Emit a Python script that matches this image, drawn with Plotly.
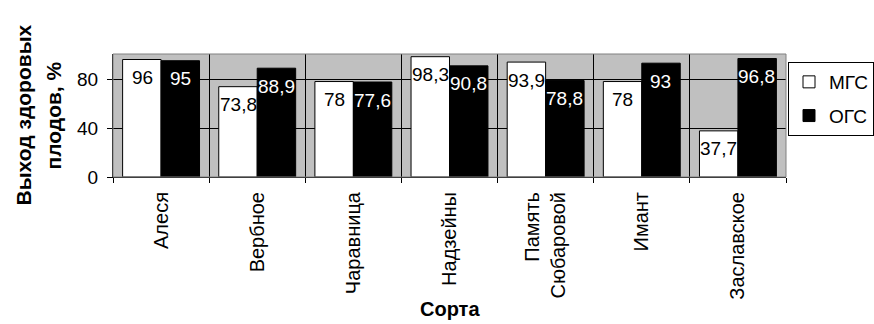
import plotly.graph_objects as go

categories = ["Алеся", "Вербное", "Чаравница", "Надзейны", "Память<br>Сюбаровой", "Имант", "Заславское"]
mgs_values = [96, 73.8, 78, 98.3, 93.9, 78, 37.7]
ogs_values = [95, 88.9, 77.6, 90.8, 78.8, 93, 96.8]
mgs_labels = ["96", "73,8", "78", "98,3", "93,9", "78", "37,7"]
ogs_labels = ["95", "88,9", "77,6", "90,8", "78,8", "93", "96,8"]
y_ticks = [0, 40, 80]

FONT = "Liberation Sans, Arial, sans-serif"
L, R, T, B = 113, 88, 54, 147
W, H = 874, 324
pw = W - L - R
ph = H - T - B

fig = go.Figure()
fig.add_trace(go.Bar(name="МГС", x=categories, y=mgs_values,
                     marker=dict(color="white", line=dict(color="black", width=1)),
                     legendgroup="a"))
fig.add_trace(go.Bar(name="ОГС", x=categories, y=ogs_values,
                     marker=dict(color="black", line=dict(color="black", width=1)),
                     legendgroup="b"))

annotations = []
for cat, v, t in zip(categories, mgs_values, mgs_labels):
    annotations.append(dict(x=cat, y=v, xref="x", yref="y", text=t, showarrow=False,
                            xshift=-19, yshift=-18, yanchor="middle",
                            font=dict(family=FONT, size=19, color="black")))
for cat, v, t in zip(categories, ogs_values, ogs_labels):
    annotations.append(dict(x=cat, y=v, xref="x", yref="y", text=t, showarrow=False,
                            xshift=19, yshift=-18, yanchor="middle",
                            font=dict(family=FONT, size=19, color="white")))

annotations.append(dict(text="<b>Выход здоровых</b>", xref="paper", yref="paper",
                        x=(23 - L) / pw, y=0.5, xanchor="center", yanchor="middle",
                        textangle=-90, showarrow=False,
                        font=dict(family=FONT, size=21, color="black")))
annotations.append(dict(text="<b>плодов, %</b>", xref="paper", yref="paper",
                        x=(53 - L) / pw, y=0.5, xanchor="center", yanchor="middle",
                        textangle=-90, showarrow=False,
                        font=dict(family=FONT, size=21, color="black")))
annotations.append(dict(text="<b>Сорта</b>", xref="paper", yref="paper",
                        x=0.5, y=-(309 - (H - B)) / ph, xanchor="center", yanchor="middle",
                        showarrow=False, font=dict(family=FONT, size=20, color="black")))

fig.update_layout(
    width=W, height=H,
    margin=dict(l=L, r=R, t=T, b=B, pad=0, autoexpand=False),
    paper_bgcolor="white", plot_bgcolor="#c0c0c0",
    barmode="group", bargap=0.2, bargroupgap=0,
    font=dict(family=FONT, size=19, color="black"),
    showlegend=True,
    legend=dict(x=(788 - L) / pw, y=1 - (62 - T) / ph, xanchor="left", yanchor="top",
                bordercolor="black", borderwidth=1, bgcolor="white",
                font=dict(family=FONT, size=19, color="black"),
                traceorder="grouped", tracegroupgap=6, itemwidth=30),
    annotations=annotations,
    shapes=[dict(type="rect", xref="paper", yref="paper", x0=0, y0=0, x1=1, y1=1,
                 line=dict(color="#808080", width=1), fillcolor="rgba(0,0,0,0)", layer="above")],
)
fig.update_xaxes(type="category", tickson="boundaries", ticks="outside", ticklen=5,
                 tickcolor="black", showgrid=True, gridcolor="black", gridwidth=1,
                 tickangle=-90, showline=True, linecolor="black", linewidth=1,
                 tickfont=dict(family=FONT, size=20), automargin=False,
                 ticklabelstandoff=6)
fig.update_yaxes(range=[0, 100.5], tickvals=y_ticks, ticks="outside", ticklen=5,
                 tickcolor="black", showgrid=True, gridcolor="black", gridwidth=1,
                 showline=True, linecolor="black", linewidth=1, zeroline=False,
                 tickfont=dict(family=FONT, size=19), automargin=False,
                 ticklabelstandoff=5)

fig.write_html("out.html", config={"displayModeBar": False},
               post_script="document.body.style.margin='0';document.body.style.overflow='hidden';")
